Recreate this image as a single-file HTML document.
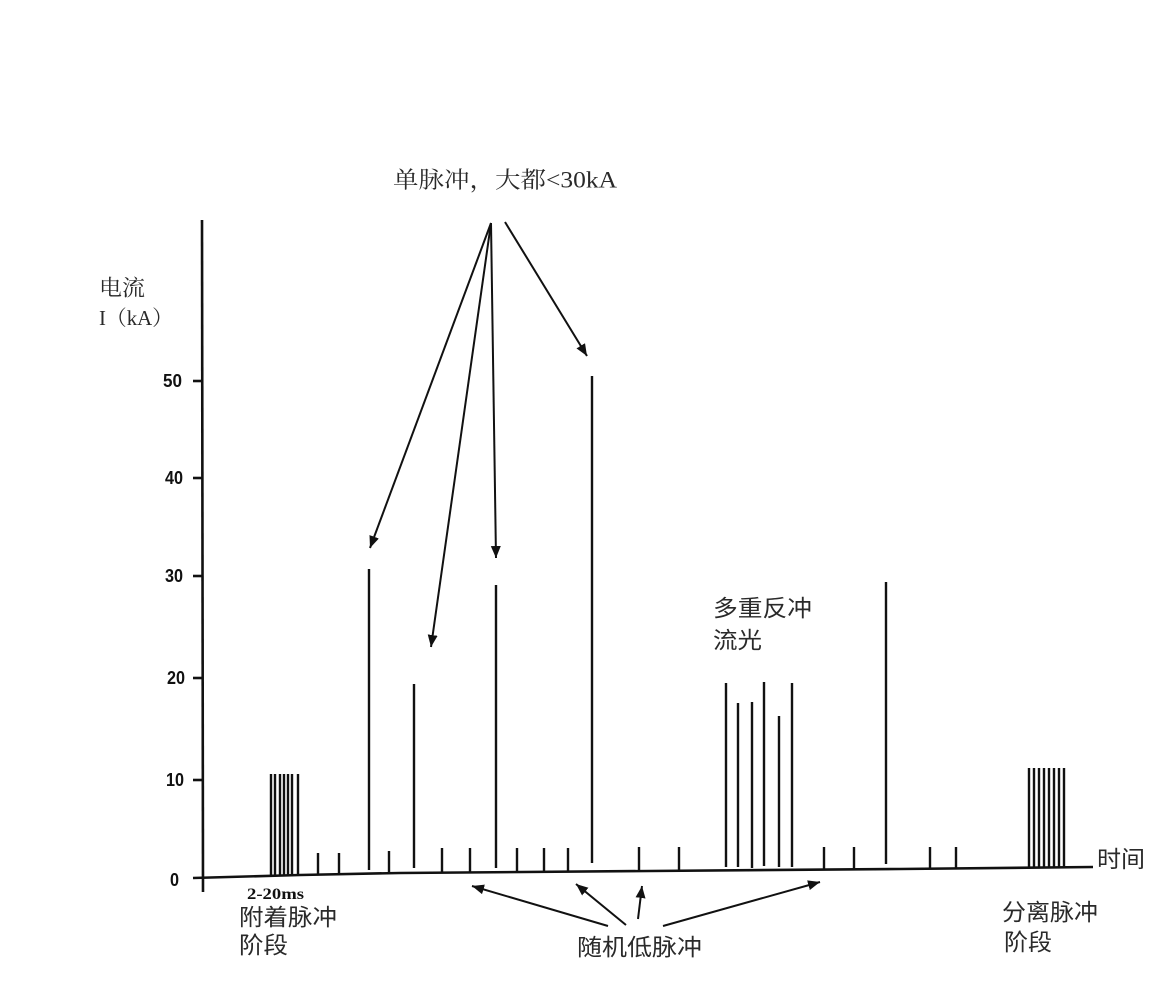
<!DOCTYPE html>
<html>
<head>
<meta charset="utf-8">
<style>
html,body{margin:0;padding:0;background:#fff;}
svg{display:block;}
.cjk{font-family:"Liberation Sans","Noto Sans CJK SC",sans-serif;fill:#2a2a2a;}
.cjks{font-family:"Liberation Serif","Noto Serif CJK SC",serif;fill:#2a2a2a;}
.num{font-family:"Liberation Sans",sans-serif;font-weight:bold;fill:#111;}
</style>
</head>
<body>
<svg width="1152" height="989" viewBox="0 0 1152 989" xmlns="http://www.w3.org/2000/svg">
<defs>
<marker id="ah" markerUnits="userSpaceOnUse" markerWidth="14" markerHeight="12" refX="12" refY="5" orient="auto">
<path d="M0,0 L12,5 L0,10 z" fill="#111"/>
</marker>
</defs>
<rect width="1152" height="989" fill="#fff"/>

<!-- axes -->
<g stroke="#111" stroke-width="2.6" fill="none" stroke-linecap="butt">
<line x1="202" y1="220" x2="203" y2="892"/>
<polyline points="193,878 300,875 400,873 650,871 900,869 1093,867"/>
<line x1="193" y1="381" x2="202" y2="381"/>
<line x1="193" y1="478" x2="202" y2="478"/>
<line x1="193" y1="576" x2="202" y2="576"/>
<line x1="193" y1="678" x2="202" y2="678"/>
<line x1="193" y1="780" x2="202" y2="780"/>
</g>

<!-- tick labels -->
<g class="num" font-size="18" dominant-baseline="central">
<text x="163" y="381" textLength="19" lengthAdjust="spacingAndGlyphs">50</text>
<text x="165" y="478" textLength="18" lengthAdjust="spacingAndGlyphs">40</text>
<text x="165" y="576" textLength="18" lengthAdjust="spacingAndGlyphs">30</text>
<text x="167" y="678" textLength="18" lengthAdjust="spacingAndGlyphs">20</text>
<text x="166" y="780" textLength="18" lengthAdjust="spacingAndGlyphs">10</text>
<text x="170" y="880" textLength="9" lengthAdjust="spacingAndGlyphs">0</text>
</g>

<!-- pulses -->
<g stroke="#111" stroke-width="2.4">
<!-- left cluster -->
<line x1="271" y1="774" x2="271" y2="876"/>
<line x1="275" y1="774" x2="275" y2="876"/>
<line x1="280" y1="774" x2="280" y2="876"/>
<line x1="284" y1="774" x2="284" y2="876"/>
<line x1="288" y1="774" x2="288" y2="876"/>
<line x1="292" y1="774" x2="292" y2="876"/>
<line x1="298" y1="774" x2="298" y2="875"/>
<!-- small -->
<line x1="318" y1="853" x2="318" y2="874"/>
<line x1="339" y1="853" x2="339" y2="874"/>
<line x1="389" y1="851" x2="389" y2="873"/>
<line x1="442" y1="848" x2="442" y2="872"/>
<line x1="470" y1="848" x2="470" y2="872"/>
<line x1="517" y1="848" x2="517" y2="872"/>
<line x1="544" y1="848" x2="544" y2="871"/>
<line x1="568" y1="848" x2="568" y2="871"/>
<line x1="639" y1="847" x2="639" y2="871"/>
<line x1="679" y1="847" x2="679" y2="870"/>
<line x1="824" y1="847" x2="824" y2="869"/>
<line x1="854" y1="847" x2="854" y2="869"/>
<line x1="930" y1="847" x2="930" y2="868"/>
<line x1="956" y1="847" x2="956" y2="868"/>
<!-- big -->
<line x1="369" y1="569" x2="369" y2="870"/>
<line x1="414" y1="684" x2="414" y2="868"/>
<line x1="496" y1="585" x2="496" y2="868"/>
<line x1="592" y1="376" x2="592" y2="863"/>
<line x1="886" y1="582" x2="886" y2="864"/>
<!-- multi -->
<line x1="726" y1="683" x2="726" y2="867"/>
<line x1="738" y1="703" x2="738" y2="867"/>
<line x1="752" y1="702" x2="752" y2="868"/>
<line x1="764" y1="682" x2="764" y2="866"/>
<line x1="779" y1="716" x2="779" y2="867"/>
<line x1="792" y1="683" x2="792" y2="867"/>
<!-- right cluster -->
<line x1="1029" y1="768" x2="1029" y2="867"/>
<line x1="1034" y1="768" x2="1034" y2="867"/>
<line x1="1039" y1="768" x2="1039" y2="867"/>
<line x1="1044" y1="768" x2="1044" y2="867"/>
<line x1="1049" y1="768" x2="1049" y2="867"/>
<line x1="1054" y1="768" x2="1054" y2="867"/>
<line x1="1059" y1="768" x2="1059" y2="867"/>
<line x1="1064" y1="768" x2="1064" y2="867"/>
</g>

<!-- arrows -->
<g stroke="#111" stroke-width="2" fill="none" marker-end="url(#ah)">
<line x1="491" y1="223" x2="370" y2="548"/>
<line x1="491" y1="223" x2="431" y2="647"/>
<line x1="491" y1="223" x2="496" y2="558"/>
<line x1="505" y1="222" x2="587" y2="356"/>
<line x1="608" y1="926" x2="472" y2="886"/>
<line x1="626" y1="925" x2="576" y2="884"/>
<line x1="638" y1="919" x2="642" y2="886"/>
<line x1="663" y1="926" x2="820" y2="882"/>
</g>

<!-- labels -->
<g dominant-baseline="central">
<text class="cjks" x="393" y="180" font-size="23" textLength="224" lengthAdjust="spacingAndGlyphs">单脉冲，大都&lt;30kA</text>
<text class="cjks" x="99" y="288" font-size="22" textLength="46" lengthAdjust="spacingAndGlyphs">电流</text>
<text class="cjks" x="99" y="318" font-size="21" textLength="74" lengthAdjust="spacingAndGlyphs">I（kA）</text>
<text class="cjk" x="713" y="608" font-size="23" textLength="99" lengthAdjust="spacingAndGlyphs">多重反冲</text>
<text class="cjk" x="713" y="640" font-size="23" textLength="49" lengthAdjust="spacingAndGlyphs">流光</text>
<text class="cjk" x="239" y="917" font-size="23" textLength="98" lengthAdjust="spacingAndGlyphs">附着脉冲</text>
<text class="cjk" x="239" y="945" font-size="23" textLength="49" lengthAdjust="spacingAndGlyphs">阶段</text>
<text class="cjk" x="577" y="947" font-size="23" textLength="125" lengthAdjust="spacingAndGlyphs">随机低脉冲</text>
<text class="cjk" x="1002" y="912" font-size="23" textLength="96" lengthAdjust="spacingAndGlyphs">分离脉冲</text>
<text class="cjk" x="1004" y="942" font-size="23" textLength="48" lengthAdjust="spacingAndGlyphs">阶段</text>
<text class="cjk" x="1097" y="859" font-size="23" textLength="48" lengthAdjust="spacingAndGlyphs">时间</text>
</g>
<text x="247" y="899" font-family="Liberation Serif, serif" font-weight="bold" font-size="16" fill="#111" textLength="57" lengthAdjust="spacingAndGlyphs">2-20ms</text>
</svg>
</body>
</html>
